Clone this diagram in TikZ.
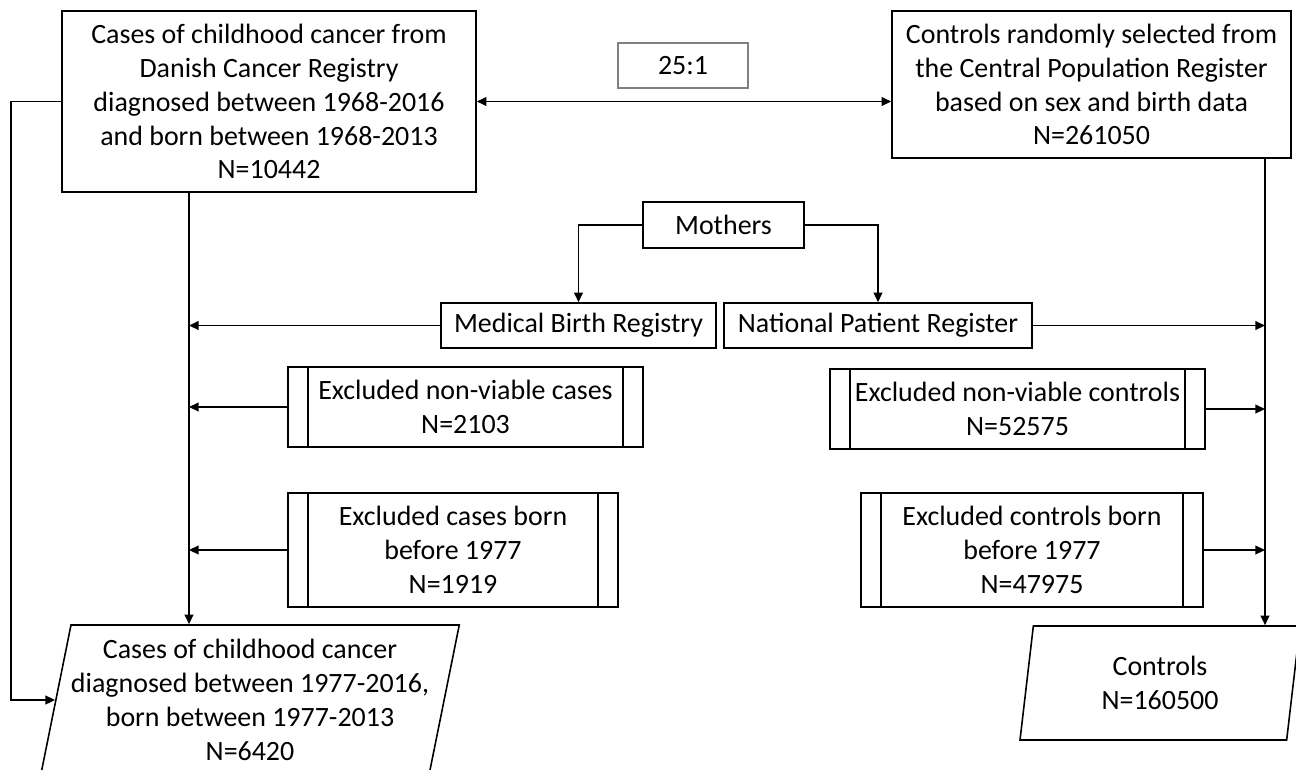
\documentclass[tikz,border=0pt]{standalone}
\usepackage{fontspec}
\setmainfont{Carlito}
\usetikzlibrary{arrows.meta,shapes.geometric}
\begin{document}
\begin{tikzpicture}[font=\fontsize{15.9}{19.3}\selectfont, line width=0.9pt,
  >={Triangle[length=5.5pt,width=5pt]},
  box/.style={draw, align=center, inner sep=0pt},
  procbox/.style={box, path picture={
    \draw ([xshift=0.4cm]path picture bounding box.north west) -- ([xshift=0.4cm]path picture bounding box.south west)
          ([xshift=-0.4cm]path picture bounding box.north east) -- ([xshift=-0.4cm]path picture bounding box.south east);}},
  iobox/.style={draw, align=center, inner sep=0pt, trapezium, trapezium left angle=76,
    trapezium right angle=104, trapezium stretches body}]
\clip (0,0) rectangle (25.92,-15.38);
% top row
\node[box, minimum width=8.28cm, minimum height=3.62cm] (cases) at (5.38,-2.03)
  {Cases of childhood cancer from\\Danish Cancer Registry\\diagnosed between 1968-2016\\and born between 1968-2013\\N=10442};
\node[box, minimum width=7.98cm, minimum height=2.94cm] (controls) at (21.83,-1.69)
  {Controls randomly selected from\\the Central Population Register\\based on sex and birth data\\N=261050};
\node[box, draw=gray, minimum width=2.6cm, minimum height=0.9cm] (ratio) at (13.66,-1.31) {25:1};
% registers
\node[box, minimum width=3.22cm, minimum height=0.92cm] (mothers) at (14.47,-4.5) {Mothers};
\node[box, minimum width=5.5cm, minimum height=0.9cm] (mbr) at (11.57,-6.51) {Medical Birth Registry};
\node[box, minimum width=6.16cm, minimum height=0.9cm] (npr) at (17.56,-6.51) {National Patient Register};
% exclusions
\node[procbox, minimum width=7.1cm, minimum height=1.6cm] (nvcases) at (9.31,-8.14)
  {Excluded non-viable cases\\N=2103};
\node[procbox, minimum width=7.5cm, minimum height=1.6cm] (nvcontrols) at (20.35,-8.18)
  {Excluded non-viable controls\\N=52575};
\node[procbox, minimum width=6.6cm, minimum height=2.28cm] (bcases) at (9.06,-11)
  {Excluded cases born\\before 1977\\N=1919};
\node[procbox, minimum width=6.84cm, minimum height=2.28cm] (bcontrols) at (20.64,-11)
  {Excluded controls born\\before 1977\\N=47975};
% final groups
\node[iobox, minimum width=8.1cm, minimum height=3cm] (pcases) at (5.0,-14)
  {Cases of childhood cancer\\diagnosed between 1977-2016,\\born between 1977-2013\\N=6420};
\node[iobox, minimum width=5.6cm, minimum height=2.28cm] (pcontrols) at (23.2,-13.66)
  {Controls\\N=160500};
\coordinate (lx) at (3.78,0);
\coordinate (rx) at (25.3,0);
% connectors
\draw[<->] (cases.east) -- (cases.east -| controls.west);
\draw[->] (mothers.west) -| (mbr.north);
\draw[->] (mothers.east) -| (npr.north);
\draw[->] (cases.south -| lx) -- (pcases.north -| lx);
\draw[->] (controls.south -| rx) -- (pcontrols.north -| rx);
\draw[->] (cases.west) -- ++(-1,0) |- (pcases.west);
\draw[->] (mbr.west) -- (mbr.west -| lx);
\draw[->] (nvcases.west) -- (nvcases.west -| lx);
\draw[->] (bcases.west) -- (bcases.west -| lx);
\draw[->] (npr.east) -- (npr.east -| rx);
\draw[->] (nvcontrols.east) -- (nvcontrols.east -| rx);
\draw[->] (bcontrols.east) -- (bcontrols.east -| rx);
\end{tikzpicture}
\end{document}
